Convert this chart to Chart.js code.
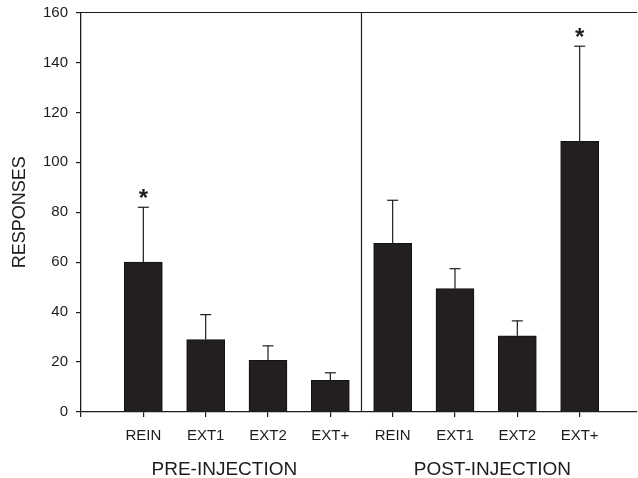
<!DOCTYPE html>
<html>
<head>
<meta charset="utf-8">
<script src="https://cdn.jsdelivr.net/npm/chart.js@4"></script>
<style>
  html, body { margin: 0; padding: 0; background: #fff; }
  canvas { display: block; }
</style>
</head>
<body>
<canvas id="chart" width="638" height="478"></canvas>
<script>
// values
const categories = ['REIN', 'EXT1', 'EXT2', 'EXT+', 'REIN', 'EXT1', 'EXT2', 'EXT+'];
const means = [60, 29, 20.7, 12.7, 67.6, 49.4, 30.5, 108.4];
const errors = [22, 10, 5.8, 3, 17.2, 8, 6, 38.1];
const marked = [true, false, false, false, false, false, false, true];
const groups = ['PRE-INJECTION', 'POST-INJECTION'];
const yTicks = { min: 0, max: 160, step: 20 };

const ink = '#1e1c1c';
const font = 'Liberation Sans, Arial, sans-serif';

const overlay = {
    id: 'overlay',
    afterDatasetsDraw(chart) {
        const { ctx, chartArea, scales: { x, y } } = chart;
        const line = (x0, y0, x1, y1) => {
            ctx.beginPath();
            ctx.moveTo(x0, y0);
            ctx.lineTo(x1, y1);
            ctx.stroke();
        };
        ctx.save();
        ctx.strokeStyle = ink;
        ctx.lineWidth = 1.2;

        // frame top and the pre/post divider
        line(chartArea.left, chartArea.top, chartArea.right, chartArea.top);
        const xd = x.getPixelForValue(4.5);
        line(xd, chartArea.top, xd, chartArea.bottom);

        // error bars (upper only) and asterisks
        ctx.fillStyle = ink;
        ctx.textAlign = 'center';
        ctx.textBaseline = 'alphabetic';
        ctx.font = 'bold 24px ' + font;
        means.forEach((m, i) => {
            const px = x.getPixelForValue(i + 1);
            const y0 = y.getPixelForValue(m);
            const y1 = y.getPixelForValue(m + errors[i]);
            line(px, y0, px, y1);
            line(px - 5.5, y1, px + 5.5, y1);
            if (marked[i]) {
                ctx.fillText('*', px, y1 - 1);
            }
        });

        // group labels under the category names
        ctx.font = '19px ' + font;
        ctx.fillText(groups[0], x.getPixelForValue(2.3), 475);
        ctx.fillText(groups[1], x.getPixelForValue(6.6), 475);
        ctx.restore();
    }
};

new Chart(document.getElementById('chart').getContext('2d'), {
    type: 'bar',
    data: {
        datasets: [{
            data: means.map((v, i) => ({ x: i + 1, y: v })),
            backgroundColor: '#231f20',
            borderColor: '#111',
            borderWidth: 1,
            barThickness: 38
        }]
    },
    options: {
        responsive: false,
        animation: false,
        layout: { padding: { top: 12.5, right: 1, left: 0, bottom: 0 } },
        plugins: {
            legend: { display: false },
            tooltip: { enabled: false }
        },
        scales: {
            x: {
                type: 'linear',
                min: 0,
                max: 8.92,
                offset: false,
                afterFit: s => { s.height = 66; s.paddingLeft = 0; s.paddingRight = 0; },
                grid: { offset: false, drawOnChartArea: false, tickLength: 5, color: ink, lineWidth: 1.2 },
                border: { color: ink, width: 1.3 },
                ticks: {
                    stepSize: 1,
                    includeBounds: false,
                    autoSkip: false,
                    maxRotation: 0,
                    padding: 10,
                    color: ink,
                    font: { family: font, size: 15 },
                    callback: v => categories[v - 1] || ''
                }
            },
            y: {
                min: yTicks.min,
                max: yTicks.max,
                afterFit: s => { s.width = 81; s.paddingTop = 0; s.paddingBottom = 0; },
                grid: { drawOnChartArea: false, tickLength: 5, color: ink, lineWidth: 1.2 },
                border: { color: ink, width: 1.3 },
                ticks: {
                    stepSize: yTicks.step,
                    padding: 8,
                    color: ink,
                    font: { family: font, size: 15 }
                },
                title: {
                    display: true,
                    text: 'RESPONSES',
                    color: ink,
                    font: { family: font, size: 18 },
                    padding: { top: 9, bottom: 0 }
                }
            }
        }
    },
    plugins: [overlay]
});
</script>
</body>
</html>
